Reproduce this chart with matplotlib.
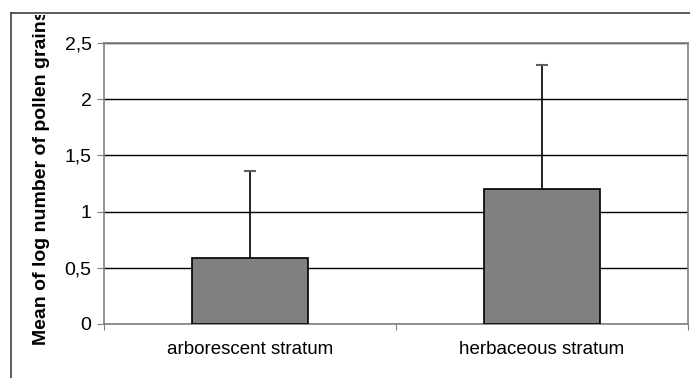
import numpy as np
import matplotlib
matplotlib.use('Agg')
import matplotlib.pyplot as plt
from matplotlib.ticker import FuncFormatter, MultipleLocator
from matplotlib.transforms import Bbox

plt.rcParams['font.family'] = ['Liberation Sans', 'DejaVu Sans']
plt.rcParams['font.size'] = 13.5

## data ##
categories = ['arborescent stratum', 'herbaceous stratum']
means = [0.59, 1.20]
err_upper = [0.77, 1.10]

W, H = 690, 378
fig = plt.figure(figsize=(W/100, H/100), dpi=100)

## outer chart border (left + top only visible) ##
fig.add_artist(plt.Line2D([11/W, 11/W], [0, 1 - 13/H], color='#404040', lw=1.2))
fig.add_artist(plt.Line2D([11/W, 1], [1 - 13/H, 1 - 13/H], color='#404040', lw=1.2))

ax = fig.add_axes([104/W, 1 - 324/H, (688-104)/W, (324-43)/H])

x = np.arange(len(categories))
ax.bar(x, means, width=0.4, color='#808080', edgecolor='black', linewidth=1.2, zorder=3)
ax.errorbar(x, means, yerr=[np.zeros(len(means)), err_upper], fmt='none',
            ecolor='black', elinewidth=1.2, capsize=0, zorder=4)
ax.scatter(x, np.array(means) + np.array(err_upper), marker='_', s=70,
           color='#606060', linewidths=1.5, zorder=5)

ax.set_xlim(-0.5, 1.5)
ax.set_ylim(0, 2.5)
ax.yaxis.set_major_locator(MultipleLocator(0.5))
ax.yaxis.set_major_formatter(FuncFormatter(lambda v, p: ('%g' % v).replace('.', ',')))
ax.grid(axis='y', color='black', lw=1.0, zorder=0)

ax.set_xticks([-0.5, 0.5, 1.5])
ax.set_xticklabels([])
ax.set_xticks(x, minor=True)
ax.set_xticklabels(categories, minor=True)
ax.tick_params(axis='x', which='minor', length=0, pad=12)
ax.tick_params(axis='x', which='major', length=4, color='#808080', direction='out')
ax.tick_params(axis='y', length=5, color='#808080', direction='out', pad=4, labelsize=14)

for s in ax.spines.values():
    s.set_color('#808080')
    s.set_linewidth(1.2)

## y label, cut off at the chart border like the original ##
ylab = fig.text(42/W, 1 - 345/H, 'Mean of log number of pollen grains)', rotation=90,
                ha='center', va='bottom', fontweight='bold', fontsize=14)
ylab.set_clip_box(Bbox([[0, 0], [W, H - 15]]))
ylab.set_clip_on(True)

fig.savefig('out.png', dpi=100)
